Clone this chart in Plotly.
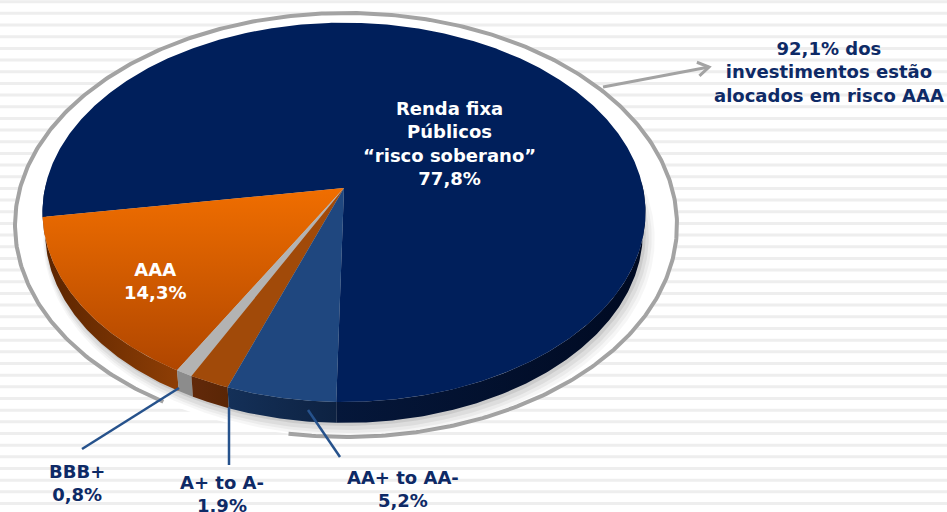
import numpy as np
import plotly.graph_objects as go

# ---- data -------------------------------------------------------------
categories = ["Renda fixa<br>Públicos<br>“risco soberano”", "AAA", "BBB+", "A+ to A-", "AA+ to AA-"]
values = [77.8, 14.3, 0.8, 1.9, 5.2]
callout_lines = ["92,1% dos", "investimentos estão", "alocados em risco AAA"]

# ---- styles -----------------------------------------------------------
top_colors = ["#001f5b", None, "#b3b3b3", "#a14a09", "#1f477f"]
aaa_gradient = [[0, "#f06e00"], [1, "#b04600"]]
side_gradients = [
    [[0, "#05173a"], [1, "#000a22"]],
    [[0, "#5a2400"], [1, "#8e3e05"]],
    [[0, "#8c8c8c"], [1, "#8c8c8c"]],
    [[0, "#62290a"], [1, "#5a2606"]],
    [[0, "#143058"], [1, "#0d2242"]],
]
NAVY = "#0e2a66"
LEADER = "#26528c"
RING = "#a3a3a3"
FONT = "DejaVu Sans"

W, H = 947, 512

# ---- tilted-disc projection (screen pixels, y downwards) --------------
AX, AY = 344, 188          # projected centre of the disc
COS_E, SIN_E = 0.7816, 0.6238
DIST, FOCAL, THICK = 6.088, 1820.4, 0.087
START = -91.3              # angle of the first slice edge (degrees)


def project(t_deg, bottom=False):
    t = np.radians(np.asarray(t_deg, dtype=float))
    X, Y = np.cos(t), np.sin(t)
    z = -THICK if bottom else 0.0
    depth = DIST + Y * COS_E - z * SIN_E
    up = Y * SIN_E + z * COS_E
    return AX + FOCAL * X / depth, AY - FOCAL * up / depth


def arc(a0, a1, step=0.5):
    n = max(2, int(abs(a1 - a0) / step) + 1)
    return np.linspace(a0, a1, n)


total = sum(values)
edges = START + 360.0 * np.concatenate([[0.0], np.cumsum(values)]) / total

fig = go.Figure()

# background stripes
shapes = []
y = 1.7
while y < H:
    shapes.append(dict(type="line", xref="x", yref="y", x0=0, x1=W, y0=y, y1=y,
                       line=dict(color="#eeeeee", width=3), layer="below"))
    y += 11.67

# white area and grey ring around the disc
RC_X, RC_Y, RA, RB = 346, 225, 331, 212
phi = np.radians(np.linspace(0, 360, 361))
fig.add_trace(go.Scatter(x=RC_X + RA * np.cos(phi), y=RC_Y + RB * np.sin(phi),
                         fill="toself", fillcolor="white", line=dict(width=0),
                         mode="lines", hoverinfo="skip", showlegend=False))
phi = np.radians(np.linspace(123.5, 460, 500))
fig.add_trace(go.Scatter(x=RC_X + RA * np.cos(phi), y=RC_Y + RB * np.sin(phi),
                         mode="lines", line=dict(color=RING, width=4),
                         hoverinfo="skip", showlegend=False))

# soft drop shadow
outline_t = arc(0, 360, 1)
for dx, dy, grow, alpha in [(5, 6, 7, 0.035), (4, 5, 5, 0.045), (3, 4, 3, 0.06), (2, 2, 1, 0.08)]:
    ox, oy = project(outline_t, bottom=True)
    cx, cy = ox.mean(), oy.mean()
    sx = cx + (ox - cx) * (1 + grow / 300) + dx
    sy = cy + (oy - cy) * (1 + grow / 200) + dy
    fig.add_trace(go.Scatter(x=sx, y=sy, fill="toself",
                             fillcolor=f"rgba(0,0,0,{alpha})", line=dict(width=0),
                             mode="lines", hoverinfo="skip", showlegend=False))

# slice sides (front half of the disc)
for i in range(len(values)):
    a0, a1 = edges[i], edges[i + 1]
    for shift in (-360, 0, 360):
        lo, hi = max(a0 + shift, -182), min(a1 + shift, 2)
        if hi <= lo:
            continue
        t = arc(lo, hi, 0.5)
        tx, ty = project(t)
        bx, by = project(t[::-1], bottom=True)
        xs = np.concatenate([tx, bx])
        ys = np.concatenate([ty, by])
        fig.add_trace(go.Scatter(
            x=xs, y=ys, fill="toself", mode="lines", line=dict(width=0),
            fillgradient=dict(type="horizontal", colorscale=side_gradients[i],
                              start=float(xs.min()), stop=float(xs.max())),
            hoverinfo="skip", showlegend=False))

# slice tops
for i in range(len(values)):
    t = arc(edges[i], edges[i + 1], 0.5)
    px, py = project(t)
    xs = np.concatenate([[AX], px, [AX]])
    ys = np.concatenate([[AY], py, [AY]])
    kw = dict(x=xs, y=ys, fill="toself", mode="lines", line=dict(width=0),
              hoverinfo="skip", showlegend=False)
    if top_colors[i] is None:
        kw["fillgradient"] = dict(type="vertical", colorscale=aaa_gradient,
                                  start=float(ys.min()), stop=float(ys.max()))
    else:
        kw["fillcolor"] = top_colors[i]
    fig.add_trace(go.Scatter(**kw))

# leader lines for the small slices
leaders = [((179, 388), (82, 449)), ((229, 407), (229, 465)), ((308, 410), (340, 457))]
for (x0, y0), (x1, y1) in leaders:
    fig.add_trace(go.Scatter(x=[x0, x1], y=[y0, y1], mode="lines",
                             line=dict(color=LEADER, width=2.5),
                             hoverinfo="skip", showlegend=False))

# arrow towards the call-out
tail, tip = np.array([603.0, 87.0]), np.array([709.0, 67.0])
d = (tip - tail) / np.linalg.norm(tip - tail)
wings = []
for ang in (np.radians(32), -np.radians(32)):
    rot = np.array([[np.cos(ang), -np.sin(ang)], [np.sin(ang), np.cos(ang)]])
    wings.append(tip - 13 * rot @ d)
fig.add_trace(go.Scatter(
    x=[tail[0], tip[0], None, wings[0][0], tip[0], wings[1][0]],
    y=[tail[1], tip[1], None, wings[0][1], tip[1], wings[1][1]],
    mode="lines", line=dict(color=RING, width=3),
    hoverinfo="skip", showlegend=False))


def pct(v):
    return f"{v:.1f}".replace(".", ",") + "%"


annotations = []


def label(text, x, y, color, size=18):
    annotations.append(dict(text=f"<b>{text}</b>", x=x, y=y, xref="x", yref="y",
                            showarrow=False, xanchor="center", yanchor="middle",
                            font=dict(family=FONT, size=size, color=color)))


label(categories[0] + "<br>" + pct(values[0]), 449, 143, "white")
label(categories[1] + "<br>" + pct(values[1]), 155, 281, "white")
label(categories[2] + "<br>" + pct(values[2]), 77, 483, NAVY)
label(categories[3] + "<br>" + pct(values[3]), 222, 494, NAVY)
label(categories[4] + "<br>" + pct(values[4]), 403, 489, NAVY)
label("<br>".join(callout_lines), 829, 72, NAVY)

fig.update_layout(
    width=W, height=H, margin=dict(l=0, r=0, t=0, b=0),
    paper_bgcolor="white", plot_bgcolor="white",
    xaxis=dict(range=[0, W], visible=False, fixedrange=True),
    yaxis=dict(range=[H, 0], visible=False, fixedrange=True),
    shapes=shapes, annotations=annotations, showlegend=False,
)

fig.write_html("out.html")
